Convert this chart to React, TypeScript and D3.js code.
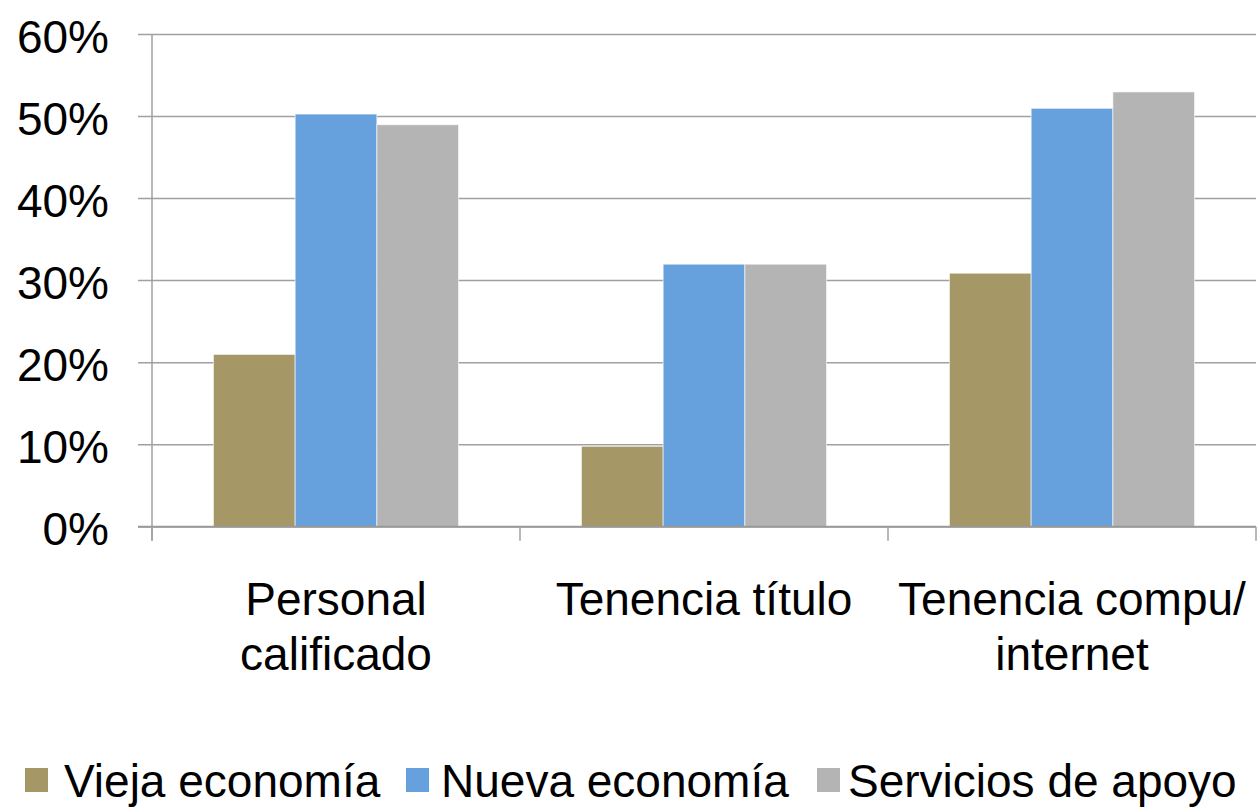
import React from "react";
import * as d3 from "d3";

const categories: string[][] = [
  ["Personal", "calificado"],
  ["Tenencia título"],
  ["Tenencia compu/", "internet"],
];
const categoryKeys = ["Personal calificado", "Tenencia título", "Tenencia compu/internet"];
const seriesNames = ["Vieja economía", "Nueva economía", "Servicios de apoyo"];
const viejaValues = [0.21, 0.098, 0.309];
const nuevaValues = [0.503, 0.32, 0.51];
const serviciosValues = [0.49, 0.32, 0.53];
const seriesValues = [viejaValues, nuevaValues, serviciosValues];
const seriesColors = ["#A59766", "#66A1DD", "#B4B4B4"];
const yTicks = [0, 0.1, 0.2, 0.3, 0.4, 0.5, 0.6];
const legendSquareX = [25, 406, 817];
const legendTextX = [64, 441, 848];

const W = 1259;
const H = 808;
const FONT = "'Liberation Sans', Arial, sans-serif";

export default function App() {
  const x0 = d3.scaleBand<string>().domain(categoryKeys).range([152, 1256]).paddingInner(0).paddingOuter(0);
  const x1 = d3
    .scaleBand<string>()
    .domain(seriesNames)
    .range([0, x0.bandwidth()])
    .paddingInner(0)
    .paddingOuter(0.752);
  const y = d3.scaleLinear().domain([0, 0.6]).range([526.7, 34.5]);
  const fmt = d3.format(".0%");

  return (
    <svg
      width={W}
      height={H}
      style={{ position: "absolute", left: 0, top: 0, background: "#fff" }}
      fontFamily={FONT}
    >
      {/* gridlines */}
      {yTicks.map((t) => (
        <line
          key={"g" + t}
          x1={138}
          x2={1256}
          y1={y(t)}
          y2={y(t)}
          stroke="#A0A0A0"
          strokeWidth={1.5}
        />
      ))}
      {/* y axis line */}
      <line x1={152} x2={152} y1={y(0.6)} y2={y(0) + 14} stroke="#A0A0A0" strokeWidth={1.5} />
      {/* y tick labels */}
      {yTicks.map((t) => (
        <text key={"t" + t} x={109} y={y(t) + 18} textAnchor="end" fontSize={46} fill="#000">
          {fmt(t)}
        </text>
      ))}
      {/* bars */}
      {categoryKeys.map((c, ci) =>
        seriesNames.map((s, si) => {
          const v = seriesValues[si][ci];
          const bx = (x0(c) as number) + (x1(s) as number);
          return (
            <rect
              key={c + s}
              x={bx}
              y={y(v)}
              width={x1.bandwidth()}
              height={y(0) - y(v)}
              fill={seriesColors[si]}
              stroke="#ffffff"
              strokeOpacity={0.6}
              strokeWidth={1}
            />
          );
        })
      )}
      {/* x axis */}
      <line x1={138} x2={1256} y1={y(0)} y2={y(0)} stroke="#999999" strokeWidth={2} />
      {[...categoryKeys.map((c) => x0(c) as number), 1256].map((tx, i) => (
        <line key={"xt" + i} x1={tx} x2={tx} y1={y(0)} y2={y(0) + 14} stroke="#A0A0A0" strokeWidth={1.5} />
      ))}
      {/* category labels */}
      {categoryKeys.map((c, ci) => (
        <text
          key={"cl" + c}
          x={(x0(c) as number) + x0.bandwidth() / 2}
          y={615}
          textAnchor="middle"
          fontSize={46}
          fill="#000"
        >
          {categories[ci].map((line, li) => (
            <tspan key={li} x={(x0(c) as number) + x0.bandwidth() / 2} dy={li === 0 ? 0 : 55}>
              {line}
            </tspan>
          ))}
        </text>
      ))}
      {/* legend */}
      {seriesNames.map((s, si) => (
        <g key={"lg" + s}>
          <rect x={legendSquareX[si]} y={768} width={23} height={24} fill={seriesColors[si]} />
          <text x={legendTextX[si]} y={797} fontSize={46} fill="#000">
            {s}
          </text>
        </g>
      ))}
    </svg>
  );
}
